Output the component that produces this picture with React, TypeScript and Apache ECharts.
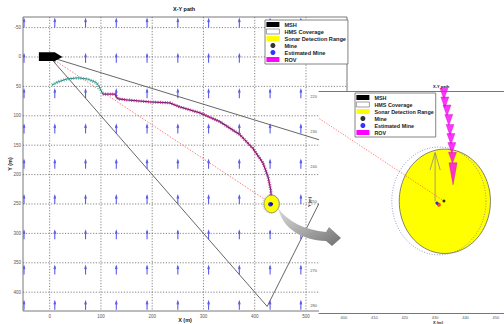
import React, { useEffect, useRef } from "react";
import * as echarts from "echarts";

// Axis tick labels
const xTicks = [0, 100, 200, 300, 400, 500];
const yTicks = [-50, 0, 50, 100, 150, 200, 250, 300, 350, 400];
const insetXTicks = [400, 410, 420, 430, 440, 450];
const insetYTicks = [220, 230, 240, 250, 260, 270, 280];

// Current field (arrow tails, metres) and arrow length
const currentXs = [-50, 10, 70, 130, 190, 250, 310, 370, 430, 490];
const currentYs = [-50, 10, 70, 130, 190, 250, 310, 370, 430];
const currentLength = 14;

// Mother ship and its hull mine sonar
const shipPosition = [0, 0];
const shipHull = [[-21, -8], [10, -8], [25, 0], [10, 7], [-21, 7]];
const hmsRange = 600;
const hmsBearings = [15, 45];

// Tracks
const approachTrack = [
  [4.5, 47.6], [16, 42.5], [33, 37.5], [55, 35.5], [74, 37.5], [92, 44], [98, 53], [103.5, 63],
];
const rovTrack = [
  [103.5, 63], [127, 63], [133, 71], [150, 73], [195, 76.5], [234, 78], [254, 85], [293, 95],
  [332, 110], [371, 132], [396, 155], [416, 180], [426, 204], [431, 225], [433, 243],
];
const rovFixes = [
  [432.9, 219.1], [433.2, 221.6], [433.9, 223.9], [434.5, 226.6], [434.9, 229.5],
  [435.2, 232.1], [435.5, 234.7], [435.7, 237.5], [435.9, 242.1],
];

// Targets
const mine = [432.9, 249.9];
const estimatedMine = [430.6, 250.5];
const rovFinal = [431.25, 251.0];
const sonarCenter = [433.2, 250.0];
const sonarRadius = 15;
const estimateCenter = [431.25, 249.9];
const estimateRadius = 15.5;

const arrowPath =
  "M277,207 C288,222 305,230 326,232 L329,227 L341,238 L332,246 L326,241 C302,240 284,229 279,211 Z";
let shapeRegistered = false;
function registerShapes() {
  if (shapeRegistered) return;
  echarts.graphic.registerShape("curvedArrow", echarts.graphic.extendPath(arrowPath, {}));
  shapeRegistered = true;
}

const FONT = "'Liberation Sans', Arial, sans-serif";

function circleRenderer(fill: string, stroke: string, lineWidth: number, dash: number[] | null) {
  return (params: any, api: any) => {
    const cx = api.value(0);
    const cy = api.value(1);
    const r = api.value(2);
    const pts: number[][] = [];
    for (let k = 0; k <= 96; k++) {
      const a = (k / 96) * Math.PI * 2;
      pts.push(api.coord([cx + r * Math.cos(a), cy + r * Math.sin(a)]));
    }
    return {
      type: "polygon",
      shape: { points: pts },
      style: { fill, stroke, lineWidth, lineDash: dash || undefined },
    };
  };
}

function quiverRenderer(lineWidth: number, headLen: number, headHalf: number) {
  return (params: any, api: any) => {
    const x = api.value(0);
    const y = api.value(1);
    const L = currentLength;
    const tail = api.coord([x, y]);
    const tip = api.coord([x, y - L]);
    const bl = api.coord([x - L * headHalf, y - L * (1 - headLen)]);
    const br = api.coord([x + L * headHalf, y - L * (1 - headLen)]);
    const color = api.visual("color");
    return {
      type: "group",
      children: [
        { type: "line", shape: { x1: tail[0], y1: tail[1], x2: tip[0], y2: tip[1] }, style: { stroke: color, lineWidth } },
        { type: "polyline", shape: { points: [bl, tip, br] }, style: { stroke: color, fill: null, lineWidth } },
      ],
    };
  };
}

function gridRenderer(params: any, api: any) {
  const cs = params.coordSys;
  const v = api.value(0);
  const vertical = api.value(1) === 0;
  const style = { stroke: "#666", lineWidth: 0.8, lineDash: [1.2, 1.6] };
  if (vertical) {
    const px = api.coord([v, 0])[0];
    return { type: "line", shape: { x1: px, y1: cs.y, x2: px, y2: cs.y + cs.height }, style };
  }
  const py = api.coord([0, v])[1];
  return { type: "line", shape: { x1: cs.x, y1: py, x2: cs.x + cs.width, y2: py }, style };
}

function legendData() {
  return [
    { name: "MSH", icon: "rect", itemStyle: { color: "#000" } },
    { name: "HMS Coverage", icon: "rect", itemStyle: { color: "#fff", borderColor: "#888", borderWidth: 0.8 } },
    { name: "Sonar Detection Range", icon: "rect", itemStyle: { color: "#ffff00" } },
    { name: "Mine", icon: "circle", itemStyle: { color: "#000" } },
    { name: "Estimated Mine", icon: "circle", itemStyle: { color: "#0000ff" } },
    { name: "ROV", icon: "rect", itemStyle: { color: "#ff00ff" } },
  ];
}

function legendBox(left: number, top: number, size: number) {
  return {
    data: legendData(),
    orient: "vertical",
    left,
    top,
    z: 12,
    selectedMode: false,
    itemWidth: 13,
    itemHeight: 5,
    itemGap: 0,
    padding: [1, 2, 1, 1],
    backgroundColor: "#fff",
    borderColor: "#666",
    borderWidth: 0.8,
    borderRadius: 0,
    textStyle: { fontSize: size, lineHeight: 7, fontWeight: "bold", color: "#222", fontFamily: FONT },
  };
}

export default function App() {
  const ref = useRef<HTMLDivElement>(null);

  useEffect(() => {
    if (!ref.current) return;
    registerShapes();
    const chart = echarts.init(ref.current, undefined, { renderer: "svg" });

    const gridLines = [
      ...xTicks.map((v) => [v, 0]),
      ...yTicks.map((v) => [v, 1]),
    ];
    const arrows: number[][] = [];
    currentYs.forEach((y) => currentXs.forEach((x) => arrows.push([x, y])));

    const rad = (d: number) => (d * Math.PI) / 180;
    const hmsOutline = [
      shipPosition,
      [shipPosition[0] + hmsRange * Math.cos(rad(hmsBearings[0])), shipPosition[1] + hmsRange * Math.sin(rad(hmsBearings[0]))],
      [shipPosition[0] + hmsRange * Math.cos(rad(hmsBearings[1])), shipPosition[1] + hmsRange * Math.sin(rad(hmsBearings[1]))],
      shipPosition,
    ];

    const main = { xAxisIndex: 0, yAxisIndex: 0 };
    const inset = { xAxisIndex: 1, yAxisIndex: 1 };

    const tickLabel = (values: number[], size: number, margin: number) => ({
      customValues: values,
      fontSize: size,
      color: "#555",
      margin,
      fontFamily: FONT,
    });

    const option: any = {
      animation: false,
      textStyle: { fontFamily: FONT },
      title: [
        { text: "X-Y path", left: 173, top: 6, padding: 0, textStyle: { fontSize: 5.5, fontWeight: "bold", color: "#111" } },
        { text: "X-Y path", left: 433, top: 84, padding: 0, z: 12, textStyle: { fontSize: 4, fontWeight: "bold", color: "#111" } },
      ],
      legend: [legendBox(265, 20, 5.6), legendBox(355, 93, 5.4)],
      grid: [
        {
          left: 23, top: 17, width: 324, height: 294, outerBoundsMode: "none", containLabel: false,
          show: true, backgroundColor: "#fff", borderColor: "#555", borderWidth: 0.8, z: 0,
        },
        {
          left: 319, top: 91, width: 185, height: 222, outerBoundsMode: "none", containLabel: false,
          show: true, backgroundColor: "#fff", borderWidth: 0, z: 6,
        },
      ],
      xAxis: [
        {
          gridIndex: 0, type: "value", min: -52, max: 580,
          axisLine: { show: false }, axisTick: { show: false }, splitLine: { show: false },
          axisLabel: tickLabel(xTicks, 4.5, 3),
          name: "X (m)", nameLocation: "middle", nameGap: 6, nameMoveOverlap: false,
          nameTextStyle: { fontSize: 5.5, fontWeight: "bold", color: "#222" },
        },
        {
          gridIndex: 1, type: "value", min: 391.8, max: 452.66, z: 7,
          axisLine: { show: true, lineStyle: { color: "#777", width: 1 } }, axisTick: { show: false }, splitLine: { show: false },
          axisLabel: tickLabel(insetXTicks, 4, 2),
          name: "X (m)", nameLocation: "middle", nameGap: 7, nameMoveOverlap: false,
          nameTextStyle: { fontSize: 4, fontWeight: "bold", color: "#222", padding: [0, 0, 0, 53] },
        },
        {
          gridIndex: 1, type: "value", min: 391.8, max: 452.66, position: "top", z: 7,
          axisLine: { show: true, lineStyle: { color: "#555", width: 0.8 } },
          axisTick: { show: false }, axisLabel: { show: false }, splitLine: { show: false },
        },
      ],
      yAxis: [
        {
          gridIndex: 0, type: "value", min: -68, max: 432, inverse: true,
          axisLine: { show: false }, axisTick: { show: false }, splitLine: { show: false },
          axisLabel: tickLabel(yTicks, 4.5, 2),
          name: "Y (m)", nameLocation: "middle", nameGap: 10, nameRotate: 90, nameMoveOverlap: false,
          nameTextStyle: { fontSize: 5.5, fontWeight: "bold", color: "#222" },
        },
        {
          gridIndex: 1, type: "value", min: 218.3, max: 282.1, inverse: true, z: 7,
          axisLine: { show: false }, axisTick: { show: false }, splitLine: { show: false },
          axisLabel: tickLabel(insetYTicks, 4, 2),
          name: "Y (m)", nameLocation: "middle", nameGap: 8, nameRotate: 90, nameMoveOverlap: false,
          nameTextStyle: { fontSize: 4, fontWeight: "bold", color: "#222" },
        },
      ],
      graphic: {
        elements: [
          {
            type: "curvedArrow", x: 0, y: 0, z: 20, silent: true,
            style: {
              fill: {
                type: "linear", x: 0, y: 0, x2: 1, y2: 1,
                colorStops: [
                  { offset: 0, color: "#dcdcdc" },
                  { offset: 0.55, color: "#a4a4a4" },
                  { offset: 1, color: "#707070" },
                ],
              },
            },
          },
        ],
      },
      series: [
        // ---- overview plot ----
        { type: "custom", name: "grid", ...main, z: 1, clip: true, silent: true, renderItem: gridRenderer, data: gridLines },
        {
          type: "custom", name: "current", ...main, z: 2, clip: true, silent: true,
          itemStyle: { color: "#5b5bea" },
          renderItem: quiverRenderer(1.1, 0.34, 0.12), data: arrows,
        },
        {
          type: "line", name: "HMS Coverage", ...main, z: 3, showSymbol: false, symbol: "none", silent: true,
          itemStyle: { color: "#555" }, lineStyle: { color: "#555", width: 0.9 }, data: hmsOutline,
        },
        {
          type: "line", name: "bearing", ...main, z: 3, showSymbol: false, symbol: "none", silent: true,
          lineStyle: { color: "#ff5050", width: 0.8, type: [1.4, 1.6] }, data: [shipPosition, mine],
        },
        {
          type: "line", name: "approach", ...main, z: 4, showSymbol: false, symbol: "none", silent: true,
          lineStyle: { color: "#23786f", width: 1 }, data: approachTrack,
        },
        {
          type: "line", name: "approach marks", ...main, z: 4, showSymbol: false, symbol: "none", silent: true,
          lineStyle: { color: "#45b3a3", width: 3.4, type: [0.8, 1.7] }, data: approachTrack,
        },
        {
          type: "line", name: "ROV", ...main, z: 4, showSymbol: false, symbol: "none", silent: true,
          itemStyle: { color: "#ff00ff" }, lineStyle: { color: "#6a1a6a", width: 1.3 }, data: rovTrack,
        },
        {
          type: "line", name: "rov marks", ...main, z: 4, showSymbol: false, symbol: "none", silent: true,
          lineStyle: { color: "#c0308c", width: 3.2, type: [0.8, 1.6] }, data: rovTrack,
        },
        {
          type: "custom", name: "Sonar Detection Range", ...main, z: 5, clip: true, silent: true,
          itemStyle: { color: "#ffff00" },
          renderItem: circleRenderer("#ffff00", "#555", 0.6, null),
          data: [[sonarCenter[0], sonarCenter[1], sonarRadius]],
        },
        {
          type: "custom", name: "estimate ring", ...main, z: 5, clip: true, silent: true,
          renderItem: circleRenderer("none", "#8888aa", 0.7, [0.8, 1.2]),
          data: [[estimateCenter[0], estimateCenter[1], estimateRadius]],
        },
        {
          type: "custom", name: "MSH", ...main, z: 6, clip: true, silent: true,
          itemStyle: { color: "#000" },
          renderItem: (params: any, api: any) => {
            const x = api.value(0);
            const y = api.value(1);
            return {
              type: "polygon",
              shape: { points: shipHull.map(([dx, dy]) => api.coord([x + dx, y + dy])) },
              style: { fill: "#000" },
            };
          },
          data: [shipPosition],
        },
        {
          type: "scatter", name: "Mine", ...main, z: 6, symbolSize: 3, silent: true,
          itemStyle: { color: "#000" }, data: [mine],
        },
        {
          type: "scatter", name: "Estimated Mine", ...main, z: 6, symbolSize: 4.5, silent: true,
          itemStyle: { color: "#0000ff" }, data: [estimatedMine],
        },

        // ---- close-up plot ----
        {
          type: "custom", name: "Sonar Detection Range", ...inset, z: 8, clip: true, silent: true,
          itemStyle: { color: "#ffff00" },
          renderItem: circleRenderer("#ffff00", "#666", 0.8, null),
          data: [[sonarCenter[0], sonarCenter[1], sonarRadius]],
        },
        {
          type: "custom", name: "estimate ring inset", ...inset, z: 9, clip: true, silent: true,
          renderItem: circleRenderer("none", "#7070b8", 0.7, [1, 1.6]),
          data: [[estimateCenter[0], estimateCenter[1], estimateRadius]],
        },
        {
          type: "custom", name: "current inset", ...inset, z: 9, clip: true, silent: true,
          itemStyle: { color: "#8a8a8a" },
          renderItem: quiverRenderer(0.8, 0.36, 0.12), data: arrows,
        },
        {
          type: "line", name: "bearing inset", ...inset, z: 9, showSymbol: false, symbol: "none", silent: true,
          lineStyle: { color: "#ff5050", width: 0.8, type: [1.2, 1.6] }, data: [shipPosition, mine],
        },
        {
          type: "scatter", name: "ROV", ...inset, z: 10, silent: true,
          symbol: "triangle", symbolRotate: 180, symbolSize: [8, 11],
          itemStyle: { color: "#ff00ff", borderColor: "#b000b0", borderWidth: 0.4 },
          data: rovFixes.map((p, i) => (i === rovFixes.length - 1 ? { value: p, symbolSize: [8, 22] } : p)),
        },
        {
          type: "scatter", name: "Mine", ...inset, z: 11, symbolSize: 3, silent: true,
          itemStyle: { color: "#000" }, data: [mine],
        },
        {
          type: "scatter", name: "rov final", ...inset, z: 11, symbolSize: 4, silent: true,
          itemStyle: { color: "#ff2020" }, data: [rovFinal],
        },
        {
          type: "scatter", name: "Estimated Mine", ...inset, z: 12, symbolSize: 3.2, silent: true,
          itemStyle: { color: "#0000ff" }, data: [estimatedMine],
        },
      ],
    };

    chart.setOption(option);
    return () => chart.dispose();
  }, []);

  return (
    <div
      ref={ref}
      style={{ position: "fixed", left: 0, top: 0, width: 504, height: 324, background: "#fff" }}
    />
  );
}
